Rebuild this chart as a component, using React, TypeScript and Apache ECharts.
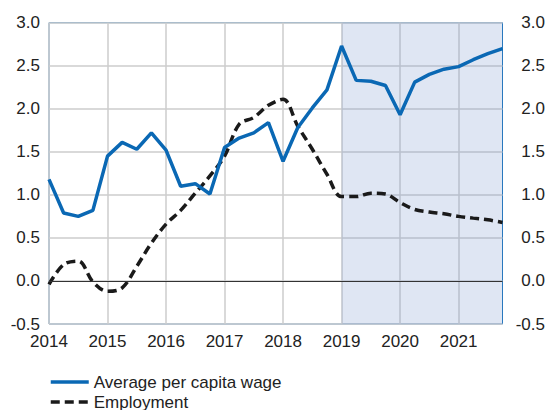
import React, { useEffect, useRef } from "react";
import * as echarts from "echarts";

const years = ["2014", "2015", "2016", "2017", "2018", "2019", "2020", "2021"];
const quarters = ["Q1", "Q2", "Q3", "Q4"];
const categories: string[] = years.flatMap((y) => quarters.map((q) => `${y}${q}`));

const wage = [
  1.18, 0.79, 0.75, 0.82,
  1.45, 1.61, 1.53, 1.72,
  1.52, 1.10, 1.13, 1.01,
  1.55, 1.66, 1.72, 1.84,
  1.39, 1.78, 2.01, 2.22,
  2.73, 2.33, 2.32, 2.27,
  1.93, 2.31, 2.40, 2.46,
  2.49, 2.57, 2.64, 2.70,
];

const employment = [
  -0.04, 0.19, 0.23, -0.01,
  -0.12, -0.08, 0.17, 0.44,
  0.66, 0.82, 1.02, 1.22,
  1.45, 1.82, 1.90, 2.04,
  2.11, 1.80, 1.53, 1.24,
  0.98, 0.98, 1.02, 1.01,
  0.91, 0.83, 0.80, 0.78,
  0.75, 0.73, 0.71, 0.68,
];

const yTicks = [-0.5, 0, 0.5, 1.0, 1.5, 2.0, 2.5, 3.0];
const forecastStart = "2019Q1";
const forecastEnd = "2021Q4";
const seriesNames = ["Average per capita wage", "Employment"];

export default function App() {
  const ref = useRef<HTMLDivElement>(null);
  useEffect(() => {
    if (!ref.current) return;
    const chart = echarts.init(ref.current, null, { renderer: "svg" });
    const font = "Arial, 'Liberation Sans', sans-serif";
    const labelStyle = { color: "#222", fontSize: 17, fontFamily: font };
    const yMin = yTicks[0];
    const yMax = yTicks[yTicks.length - 1];
    chart.setOption({
      animation: false,
      grid: {
        left: 49,
        right: 47.5,
        top: 22.7,
        bottom: 86,
        show: true,
        borderColor: "#1f74bd",
        borderWidth: 1,
        backgroundColor: "transparent",
      },
      legend: {
        orient: "vertical",
        left: 49,
        top: 373,
        height: 40,
        padding: 0,
        itemWidth: 38,
        itemHeight: 18,
        itemGap: 2,
        itemStyle: { opacity: 0 },
        lineStyle: { width: 3.5 },
        textStyle: { ...labelStyle, lineHeight: 18 },
        data: seriesNames,
      },
      xAxis: {
        type: "category",
        data: categories,
        boundaryGap: false,
        axisLine: { show: false },
        axisTick: { show: false },
        axisLabel: {
          ...labelStyle,
          interval: 3,
          margin: 9,
          formatter: (v: string) => v.slice(0, 4),
        },
        splitLine: { show: true, interval: 3, lineStyle: { color: "#cccccc", width: 1.5 } },
      },
      yAxis: [
        {
          type: "value",
          min: yMin,
          max: yMax,
          interval: 0.5,
          axisLine: { show: false },
          axisTick: { show: false },
          axisLabel: {
            ...labelStyle,
            margin: 9,
            formatter: (v: number) => v.toFixed(1),
          },
          splitLine: { show: true, lineStyle: { color: "#cccccc", width: 1.5 } },
        },
        {
          type: "value",
          position: "right",
          min: yMin,
          max: yMax,
          interval: 0.5,
          axisLine: { show: false },
          axisTick: { show: false },
          axisLabel: {
            ...labelStyle,
            align: "right",
            margin: 42.5,
            formatter: (v: number) => v.toFixed(1),
          },
          splitLine: { show: false },
        },
      ],
      series: [
        {
          name: seriesNames[1],
          type: "line",
          data: employment,
          smooth: 0.35,
          symbol: "none",
          lineStyle: { color: "#1a1a1a", width: 3.5, type: [9, 5] },
          itemStyle: { color: "#1a1a1a" },
          markArea: {
            silent: true,
            itemStyle: { color: "rgba(120,150,205,0.24)" },
            data: [[{ xAxis: forecastStart }, { xAxis: forecastEnd }]],
          },
          markLine: {
            silent: true,
            symbol: "none",
            label: { show: false },
            lineStyle: { color: "#333", width: 1, type: "solid" },
            data: [{ yAxis: 0 }],
          },
        },
        {
          name: seriesNames[0],
          type: "line",
          data: wage,
          symbol: "none",
          lineStyle: { color: "#0a68b4", width: 3.5 },
          itemStyle: { color: "#0a68b4" },
        },
      ],
    });
    return () => chart.dispose();
  }, []);
  return <div ref={ref} style={{ width: 550, height: 410, position: "absolute", left: 0, top: 0 }} />;
}
